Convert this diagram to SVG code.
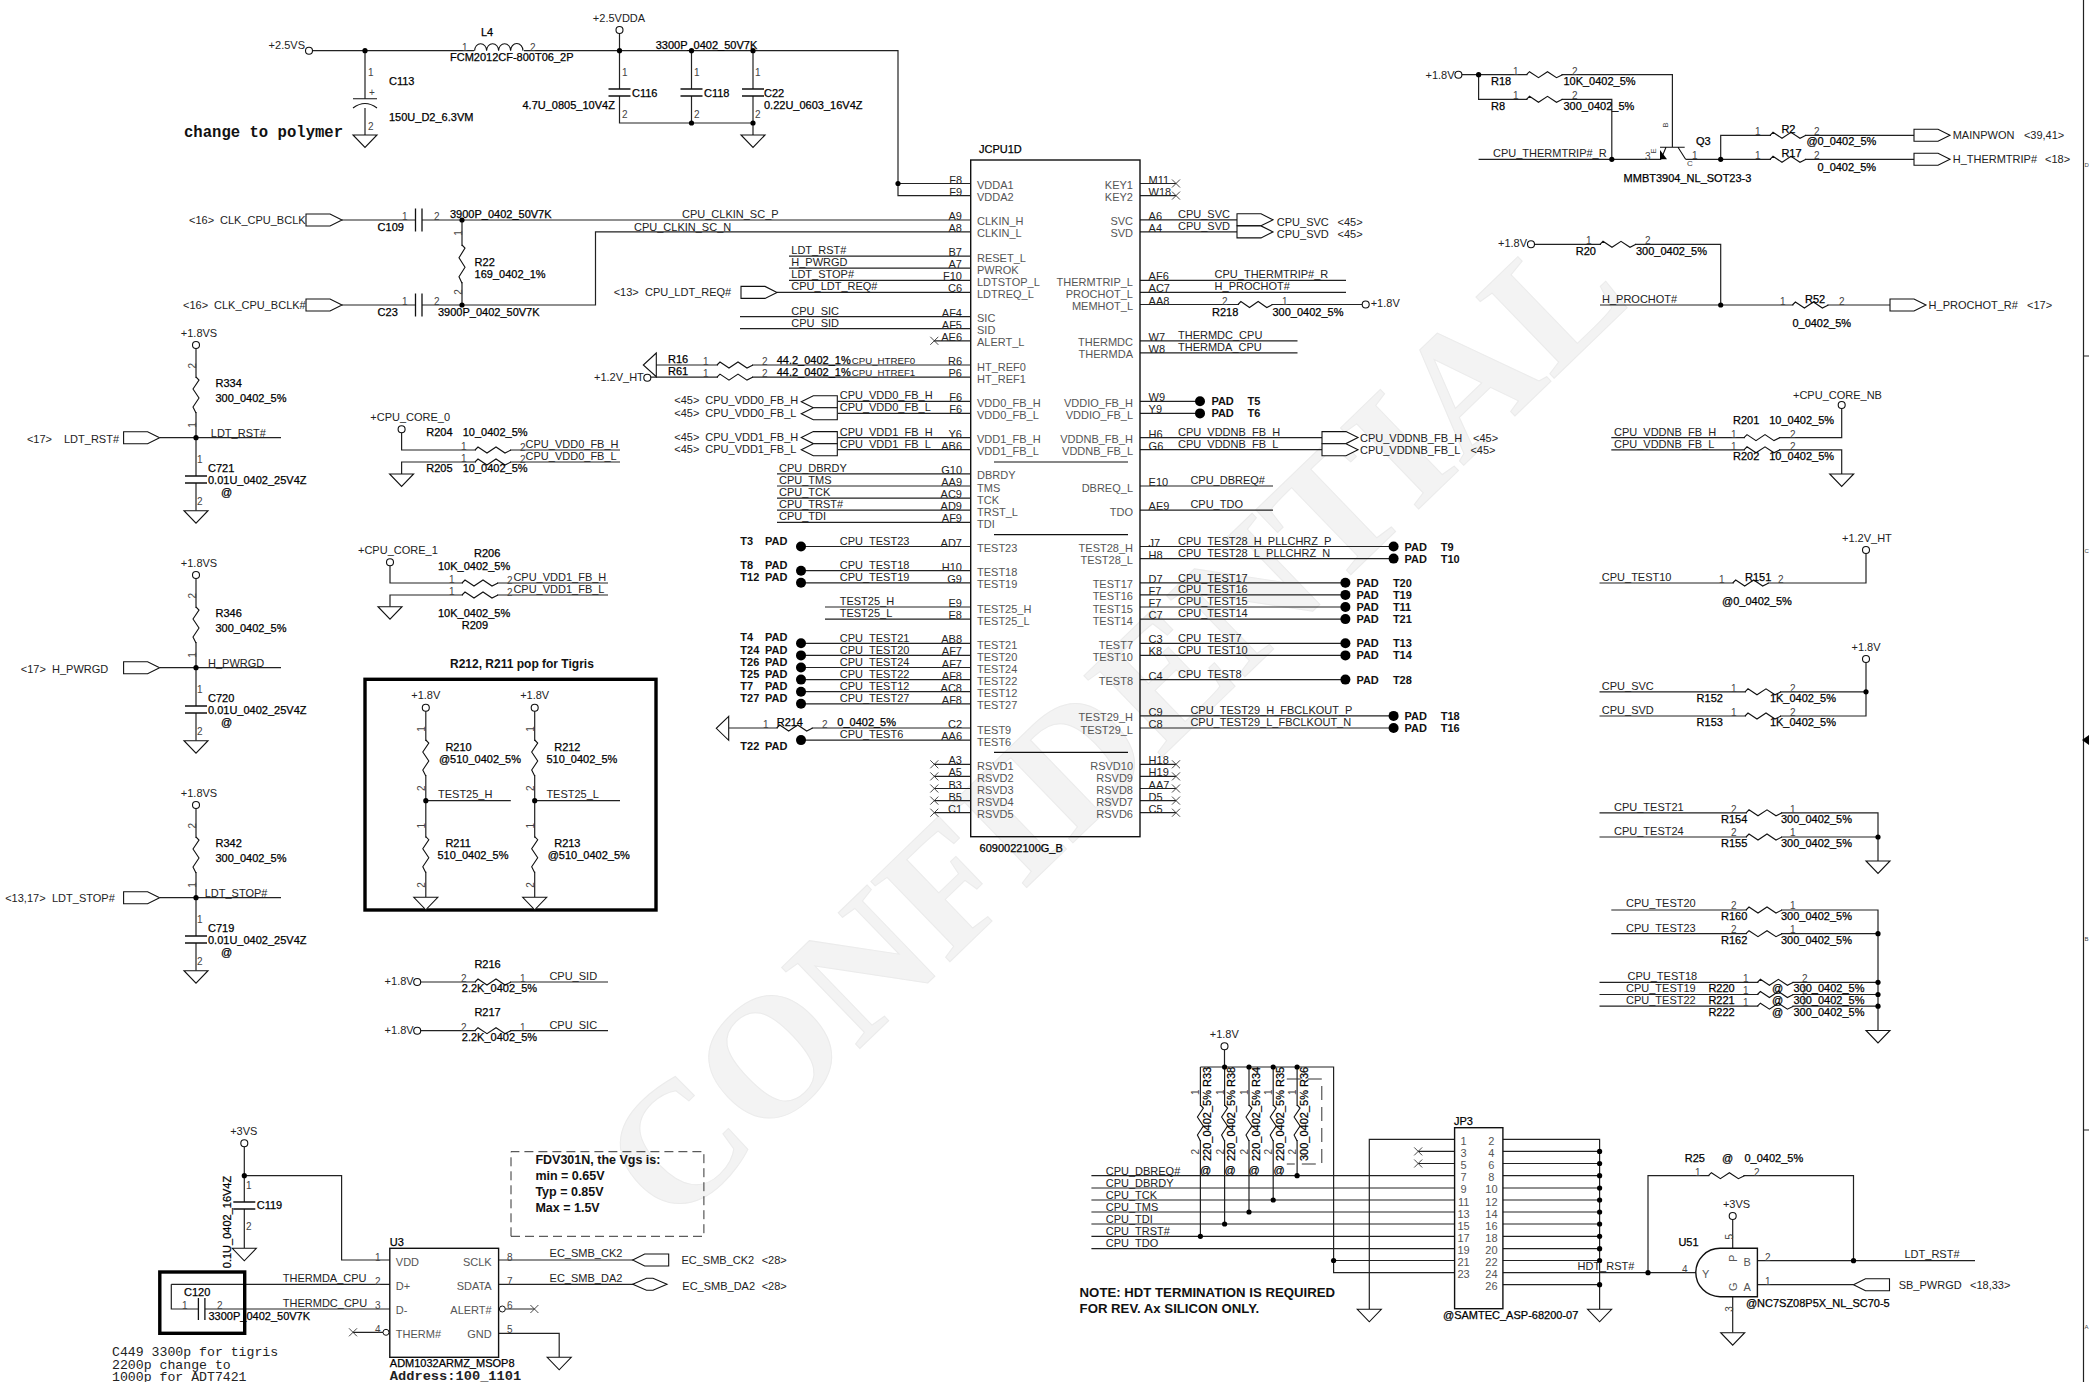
<svg xmlns="http://www.w3.org/2000/svg" width="2089" height="1382" viewBox="0 0 2089 1382">
<style>
text{font-family:"Liberation Sans",Arial,sans-serif;font-size:11px;fill:#222;dominant-baseline:central}
.b{fill:#000;stroke:#000;stroke-width:.25}
.n{font-size:10px;fill:#444}
.g{fill:#555}
.B{font-weight:bold;fill:#111}
.e{text-anchor:end}
.m{text-anchor:middle}
.s{font-size:9.7px}
.c{font-family:"Liberation Mono",monospace}
.w{fill:none;stroke:#222;stroke-width:1.2}
.sym{fill:none;stroke:#111;stroke-width:1.1}
.f{font-size:6px;fill:#444}
.wm{font-family:"Liberation Serif",serif;font-size:172px;font-weight:bold;fill:#f3f3f3;stroke:#ebebeb;stroke-width:1;dominant-baseline:auto}
</style>
<defs>
<path id="gnd" d="M-12 0H12L0 12.5Z" fill="#fff" stroke="#111" stroke-width="1.1"/>
<path id="x" d="M-4 -4L4 4M-4 4L4 -4" fill="none" stroke="#333" stroke-width=".9"/>
<circle id="o" r="3.5" fill="#fff" stroke="#111" stroke-width="1.1"/>
<circle id="d" r="2.6" fill="#000"/>
<circle id="pad" r="5" fill="#000"/>
<path id="pr" d="M0 -6H24L36 0L24 6H0Z" fill="#fff" stroke="#111" stroke-width="1.1"/>
<path id="pl" d="M0 0L12 -6H36V6H12Z" fill="#fff" stroke="#111" stroke-width="1.1"/>
<g id="rh"><rect x="1" y="-1.5" width="34" height="3" fill="#fff"/><path d="M0 0l3 -3 9 6 9 -6 9 6 6 -3" fill="none" stroke="#111" stroke-width="1.1"/></g>
<g id="cv"><rect x="-11" y="0" width="22" height="7" fill="#fff"/><path d="M-11 0H11M-11 7H11" fill="none" stroke="#111" stroke-width="1.3"/></g>
<g id="ch"><rect x="0" y="-11.5" width="6.5" height="23" fill="#fff"/><path d="M0 -11.5V11.5M6.5 -11.5V11.5" fill="none" stroke="#111" stroke-width="1.3"/></g>
</defs>
<rect width="2089" height="1382" fill="#fff"/>
<text class="wm" x="672" y="1230" transform="rotate(-44 672 1230)">CONFIDENTIAL</text>

<g id="connectors">
<path class="w" d="M309 50.7H898V195.6H971M898 183.5H971M365 50.7V98.7M365 108V135M619.5 30V89M619.5 96V123H753M691.5 50.7V89M691.5 96V123M753 50.7V89M753 96V135"/>
<path class="w" d="M342 220H971M342 305H595.5V231.9H971M462 220V305"/>
<path class="w" d="M789 256.1H971M789 268.2H971M789 280.3H971M777 292.4H971M740 316.6H971M740 328.7H971M934 340.8H971M656 365H971M650 377.1H971"/>
<path class="w" d="M838 401.3H971M838 413.4H971M838 437.6H971M838 449.7H971M777 473.9H971M777 486H971M777 498.1H971M777 510.2H971M777 522.3H971"/>
<path class="w" d="M801 546.5H971M801 570.7H971M801 582.8H971M825 607H971M825 619.1H971M801 643.3H971M801 655.4H971M801 667.5H971M801 679.6H971M801 691.7H971M801 703.8H971M729 728H971M801 740.1H971M934 764.3H971M934 776.4H971M934 788.5H971M934 800.6H971M934 812.7H971"/>
<path class="w" d="M1140 183.5H1176M1140 195.6H1176M1140 219.8H1237M1140 231.9H1237M1140 280.3H1346M1140 292.4H1346M1140 304.5H1362M1140 340.8H1297.5M1140 352.9H1297.5M1140 401.3H1200M1140 413.4H1200M1140 437.6H1322M1140 449.7H1322M1140 486H1273M1140 510.2H1273"/>
<path class="w" d="M1140 546.5H1394M1140 558.6H1394M1140 582.8H1345M1140 594.9H1345M1140 607H1345M1140 619.1H1345M1140 643.3H1345M1140 655.4H1345M1140 679.6H1345M1140 715.9H1394M1140 728H1394M1140 764.3H1176M1140 776.4H1176M1140 788.5H1176M1140 800.6H1176M1140 812.7H1176"/>
<path class="w" d="M196 345V437.7M160 437.7H281M196 437.7V510.7M196 575V667.7M160 667.7H281M196 667.7V740.7M196 805V897.7M160 897.7H281M196 897.7V970.7"/>
<path class="w" d="M401.6 429.3V450H620M401.6 474V462H620M390 562.3V583H608M390 606.7V595H608"/>
<path class="w" d="M425.8 707.7V897.3M425.8 800.7H510.8M534.7 707.7V897.3M534.7 800.7H620M417 982H608M417 1030.7H608"/>
<path class="w" d="M1458 74.7H1672.4V147M1478.6 74.7V99.3H1611.8V159.3M1478.6 159.3H1661M1685.6 159.3H1914M1720.7 159.3V135.3H1914M1531 244.3H1720.7V305M1600 305H1890"/>
<path class="w" d="M1841.7 405V437.6H1611.3M1611.3 449.8H1841.7V474M1866 550V583H1599.5M1866 659V716H1599.5M1599.5 691.8H1866M1599.5 812.8H1878V861M1599.5 837H1878M1611.3 910H1878V1030.5M1611.3 933.7H1878M1599.5 982.3H1878M1599.5 994.5H1878M1599.5 1006.2H1878"/>
<path class="w" d="M244.3 1143.3V1248M244.3 1175.7H341.6V1260H390M171.3 1284.3H390M171.3 1284.3V1309H198M205 1309H390M353 1332.3H383M498.6 1260H633M498.6 1284.3H633M505.5 1309H534.4M498.6 1333.3H559.2V1357.3"/>
<path class="w" d="M1224.5 1046.3V1067M1200.4 1067H1333.6V1272.7H1454.6M1333.6 1260.5H1454.6M1200.4 1067V1236.3M1224.6 1067V1224M1249 1067V1212M1273.2 1067V1200M1297.1 1067V1175.7"/>
<path class="w" d="M1091.4 1175.7H1454.6M1091.4 1188H1454.6M1091.4 1200H1454.6M1091.4 1212H1454.6M1091.4 1224H1454.6M1091.4 1236.3H1454.6M1091.4 1248.7H1454.6M1454.6 1139.3H1369.3V1309.3M1418.2 1151.4H1454.6M1418.2 1163.5H1454.6"/>
<path class="w" d="M1502.9 1139.3H1599.6V1309.3M1502.9 1151.4H1599.6M1502.9 1163.5H1599.6M1502.9 1175.7H1599.6M1502.9 1188H1599.6M1502.9 1200H1599.6M1502.9 1212H1599.6M1502.9 1224H1599.6M1502.9 1236.3H1599.6M1502.9 1248.7H1599.6M1502.9 1260.5H1599.6M1502.9 1272.7H1696.6M1502.9 1284.7H1599.6"/>
<path class="w" d="M1648 1272.7V1175.7H1853.5V1260.7M1757.4 1260.7H1975M1757.4 1284.7H1853.5M1732.7 1216V1248.3M1732.7 1296.7V1332.7"/>
<path fill="none" stroke="#333" stroke-width="1" stroke-dasharray="9 5" d="M511 1236.3V1151.7H703.9V1236.3H511"/>
<path fill="none" stroke="#333" stroke-width="1" stroke-dasharray="14 7" d="M1286.8 1079H1321.8V1164H1286.8"/>
</g>

<g id="frame"><path class="w" d="M2083.5 0V1382M2083.5 356H2089M2083.5 1130H2089"/><path d="M2089 735V745L2082 740Z" fill="#000"/><text class="f" x="2084.5" y="165">D</text><text class="f" x="2084.5" y="551">C</text><text class="f" x="2084.5" y="939">B</text><text class="f" x="2084.5" y="1327">A</text></g>

<g id="P25VS"><use href="#o" x="309" y="50.7"/><use href="#d" x="365" y="50.7"/><text class="e" x="305" y="45">+2.5VS</text></g>
<g id="C113"><path class="sym" d="M353 98.7H377M353 108Q365 99 377 108"/><use href="#gnd" x="365" y="135"/><text class="n" x="368" y="72">1</text><text class="n" x="369" y="92">+</text><text class="n" x="368" y="126">2</text><text class="b" x="389" y="81">C113</text><text class="b" x="389" y="117">150U_D2_6.3VM</text><text class="c" x="184" y="133" style="font-size:15.6px;font-weight:bold;fill:#111">change to polymer</text></g>
<g id="L4"><rect x="474" y="49" width="50" height="3" fill="#fff"/><path class="sym" d="M474.6 50.7a6 7 0 0 1 12 0a6 7 0 0 1 12 0a6 7 0 0 1 12 0a6 7 0 0 1 12.4 0"/><text class="n" x="462" y="47">1</text><text class="n" x="530" y="47">2</text><text class="b" x="481" y="32">L4</text><text class="b" x="450" y="57">FCM2012CF-800T06_2P</text></g>
<g id="P25VDDA"><use href="#o" x="619.5" y="30"/><use href="#d" x="619.5" y="50.7"/><text class="m" x="619" y="18">+2.5VDDA</text></g>
<g id="C116"><use href="#cv" x="619.5" y="89"/><text class="n" x="622" y="72">1</text><text class="n" x="622" y="114">2</text><text class="b" x="632" y="93">C116</text><text class="b" x="522.5" y="105">4.7U_0805_10V4Z</text></g>
<g id="C118"><use href="#d" x="691.5" y="50.7"/><use href="#d" x="691.5" y="123"/><use href="#cv" x="691.5" y="89"/><text class="n" x="694" y="72">1</text><text class="n" x="694" y="114">2</text><text class="b" x="704" y="93">C118</text><text class="b" x="655.7" y="45">3300P_0402_50V7K</text></g>
<g id="C22"><use href="#d" x="753" y="50.7"/><use href="#d" x="753" y="123"/><use href="#cv" x="753" y="89"/><use href="#gnd" x="753" y="135"/><text class="n" x="755" y="72">1</text><text class="n" x="755" y="114">2</text><text class="b" x="764" y="93">C22</text><text class="b" x="764" y="105">0.22U_0603_16V4Z</text></g>

<g id="CLK"><use href="#pr" x="306" y="220"/><use href="#pr" x="306" y="305"/><text x="189" y="220">&lt;16&gt;</text><text x="220" y="220">CLK_CPU_BCLK</text><text x="183" y="305">&lt;16&gt;</text><text x="214" y="305">CLK_CPU_BCLK#</text><text x="682" y="214">CPU_CLKIN_SC_P</text><text x="634" y="227">CPU_CLKIN_SC_N</text></g>
<g id="C109"><use href="#ch" x="415.5" y="220"/><text class="n" x="402" y="216">1</text><text class="n" x="434" y="216">2</text><text class="b" x="377.6" y="227">C109</text><text class="b" x="450" y="214">3900P_0402_50V7K</text></g>
<g id="C23"><use href="#ch" x="415.5" y="305"/><text class="n" x="402" y="301">1</text><text class="n" x="434" y="301">2</text><text class="b" x="377.6" y="312">C23</text><text class="b" x="438" y="312">3900P_0402_50V7K</text></g>
<g id="R22"><use href="#d" x="462" y="220"/><use href="#d" x="462" y="305"/><use href="#rh" transform="translate(462 245) rotate(90) scale(1.06 1)"/><text class="n m" transform="translate(458 233) rotate(-90)">1</text><text class="n m" transform="translate(458 292) rotate(-90)">2</text><text class="b" x="474.6" y="262">R22</text><text class="b" x="474.6" y="274">169_0402_1%</text></g>

<g id="JCPU1D">
<rect x="970.7" y="160" width="169.3" height="676.7" fill="none" stroke="#111" stroke-width="1.4"/>
<path d="M994 462H1128M994 534.7H1128M994 752.3H1128" fill="none" stroke="#111" stroke-width="1.2"/>
<text class="b" x="979" y="149">JCPU1D</text><text class="b" x="979.6" y="848">6090022100G_B</text>
<g class="gl"><text class="g" x="977" y="185">VDDA1</text><text class="g" x="977" y="197">VDDA2</text><text class="g" x="977" y="221.3">CLKIN_H</text><text class="g" x="977" y="233.4">CLKIN_L</text><text class="g" x="977" y="257.6">RESET_L</text><text class="g" x="977" y="269.7">PWROK</text><text class="g" x="977" y="281.8">LDTSTOP_L</text><text class="g" x="977" y="293.9">LDTREQ_L</text><text class="g" x="977" y="318.1">SIC</text><text class="g" x="977" y="330.2">SID</text><text class="g" x="977" y="342.3">ALERT_L</text><text class="g" x="977" y="366.5">HT_REF0</text><text class="g" x="977" y="378.6">HT_REF1</text><text class="g" x="977" y="402.8">VDD0_FB_H</text><text class="g" x="977" y="414.9">VDD0_FB_L</text><text class="g" x="977" y="439.1">VDD1_FB_H</text><text class="g" x="977" y="451.2">VDD1_FB_L</text><text class="g" x="977" y="475.4">DBRDY</text><text class="g" x="977" y="487.5">TMS</text><text class="g" x="977" y="499.6">TCK</text><text class="g" x="977" y="511.7">TRST_L</text><text class="g" x="977" y="523.8">TDI</text><text class="g" x="977" y="548">TEST23</text><text class="g" x="977" y="572.2">TEST18</text><text class="g" x="977" y="584.3">TEST19</text><text class="g" x="977" y="608.5">TEST25_H</text><text class="g" x="977" y="620.6">TEST25_L</text><text class="g" x="977" y="644.8">TEST21</text><text class="g" x="977" y="656.9">TEST20</text><text class="g" x="977" y="669">TEST24</text><text class="g" x="977" y="681.1">TEST22</text><text class="g" x="977" y="693.2">TEST12</text><text class="g" x="977" y="705.3">TEST27</text><text class="g" x="977" y="729.5">TEST9</text><text class="g" x="977" y="741.6">TEST6</text><text class="g" x="977" y="765.8">RSVD1</text><text class="g" x="977" y="777.9">RSVD2</text><text class="g" x="977" y="790">RSVD3</text><text class="g" x="977" y="802.1">RSVD4</text><text class="g" x="977" y="814.2">RSVD5</text></g>
<g class="gr"><text class="g e" x="1133" y="185">KEY1</text><text class="g e" x="1133" y="197">KEY2</text><text class="g e" x="1133" y="221.3">SVC</text><text class="g e" x="1133" y="233.4">SVD</text><text class="g e" x="1133" y="281.8">THERMTRIP_L</text><text class="g e" x="1133" y="293.9">PROCHOT_L</text><text class="g e" x="1133" y="306">MEMHOT_L</text><text class="g e" x="1133" y="342.3">THERMDC</text><text class="g e" x="1133" y="354.4">THERMDA</text><text class="g e" x="1133" y="402.8">VDDIO_FB_H</text><text class="g e" x="1133" y="414.9">VDDIO_FB_L</text><text class="g e" x="1133" y="439.1">VDDNB_FB_H</text><text class="g e" x="1133" y="451.2">VDDNB_FB_L</text><text class="g e" x="1133" y="487.5">DBREQ_L</text><text class="g e" x="1133" y="511.7">TDO</text><text class="g e" x="1133" y="548">TEST28_H</text><text class="g e" x="1133" y="560.1">TEST28_L</text><text class="g e" x="1133" y="584.3">TEST17</text><text class="g e" x="1133" y="596.4">TEST16</text><text class="g e" x="1133" y="608.5">TEST15</text><text class="g e" x="1133" y="620.6">TEST14</text><text class="g e" x="1133" y="644.8">TEST7</text><text class="g e" x="1133" y="656.9">TEST10</text><text class="g e" x="1133" y="681.1">TEST8</text><text class="g e" x="1133" y="717.4">TEST29_H</text><text class="g e" x="1133" y="729.5">TEST29_L</text><text class="g e" x="1133" y="765.8">RSVD10</text><text class="g e" x="1133" y="777.9">RSVD9</text><text class="g e" x="1133" y="790">RSVD8</text><text class="g e" x="1133" y="802.1">RSVD7</text><text class="g e" x="1133" y="814.2">RSVD6</text></g>
<g class="pl"><text class="e" x="962" y="179.5">F8</text><text class="e" x="962" y="191.6">F9</text><text class="e" x="962" y="215.8">A9</text><text class="e" x="962" y="227.9">A8</text><text class="e" x="962" y="252.1">B7</text><text class="e" x="962" y="264.2">A7</text><text class="e" x="962" y="276.3">F10</text><text class="e" x="962" y="288.4">C6</text><text class="e" x="962" y="312.6">AF4</text><text class="e" x="962" y="324.7">AF5</text><text class="e" x="962" y="336.8">AE6</text><text class="e" x="962" y="361">R6</text><text class="e" x="962" y="373.1">P6</text><text class="e" x="962" y="397.3">F6</text><text class="e" x="962" y="409.4">F6</text><text class="e" x="962" y="433.6">Y6</text><text class="e" x="962" y="445.7">AB6</text><text class="e" x="962" y="469.9">G10</text><text class="e" x="962" y="482">AA9</text><text class="e" x="962" y="494.1">AC9</text><text class="e" x="962" y="506.2">AD9</text><text class="e" x="962" y="518.3">AF9</text><text class="e" x="962" y="542.5">AD7</text><text class="e" x="962" y="566.7">H10</text><text class="e" x="962" y="578.8">G9</text><text class="e" x="962" y="603">E9</text><text class="e" x="962" y="615.1">E8</text><text class="e" x="962" y="639.3">AB8</text><text class="e" x="962" y="651.4">AF7</text><text class="e" x="962" y="663.5">AF7</text><text class="e" x="962" y="675.6">AF8</text><text class="e" x="962" y="687.7">AC8</text><text class="e" x="962" y="699.8">AF8</text><text class="e" x="962" y="724">C2</text><text class="e" x="962" y="736.1">AA6</text><text class="e" x="962" y="760.3">A3</text><text class="e" x="962" y="772.4">A5</text><text class="e" x="962" y="784.5">B3</text><text class="e" x="962" y="796.6">B5</text><text class="e" x="962" y="808.7">C1</text></g>
<g class="pr"><text x="1148.6" y="179.5">M11</text><text x="1148.6" y="191.6">W18</text><text x="1148.6" y="215.8">A6</text><text x="1148.6" y="227.9">A4</text><text x="1148.6" y="276.3">AF6</text><text x="1148.6" y="288.4">AC7</text><text x="1148.6" y="300.5">AA8</text><text x="1148.6" y="336.8">W7</text><text x="1148.6" y="348.9">W8</text><text x="1148.6" y="397.3">W9</text><text x="1148.6" y="409.4">Y9</text><text x="1148.6" y="433.6">H6</text><text x="1148.6" y="445.7">G6</text><text x="1148.6" y="482">E10</text><text x="1148.6" y="506.2">AE9</text><text x="1148.6" y="542.5">J7</text><text x="1148.6" y="554.6">H8</text><text x="1148.6" y="578.8">D7</text><text x="1148.6" y="590.9">F7</text><text x="1148.6" y="603">F7</text><text x="1148.6" y="615.1">C7</text><text x="1148.6" y="639.3">C3</text><text x="1148.6" y="651.4">K8</text><text x="1148.6" y="675.6">C4</text><text x="1148.6" y="711.9">C9</text><text x="1148.6" y="724">C8</text><text x="1148.6" y="760.3">H18</text><text x="1148.6" y="772.4">H19</text><text x="1148.6" y="784.5">AA7</text><text x="1148.6" y="796.6">D5</text><text x="1148.6" y="808.7">C5</text></g>
<use href="#x" x="934.3" y="340.8"/><use href="#x" x="934.3" y="764.3"/><use href="#x" x="934.3" y="776.4"/><use href="#x" x="934.3" y="788.5"/><use href="#x" x="934.3" y="800.6"/><use href="#x" x="934.3" y="812.7"/>
<use href="#x" x="1176" y="183.5"/><use href="#x" x="1176" y="195.6"/><use href="#x" x="1176" y="764.3"/><use href="#x" x="1176" y="776.4"/><use href="#x" x="1176" y="788.5"/><use href="#x" x="1176" y="800.6"/><use href="#x" x="1176" y="812.7"/>
<use href="#d" x="898" y="183.5"/>
</g>

<g id="nets-left">
<text x="791.3" y="250">LDT_RST#</text><text x="791.3" y="262">H_PWRGD</text><text x="791.3" y="274">LDT_STOP#</text><text x="791.3" y="286">CPU_LDT_REQ#</text><text x="791.3" y="311">CPU_SIC</text><text x="791.3" y="323">CPU_SID</text>
<use href="#pr" x="741" y="292.4"/><text x="613.7" y="292.4">&lt;13&gt;</text><text x="645" y="292.4">CPU_LDT_REQ#</text>
<use href="#pl" x="801.3" y="401.7"/><use href="#pl" x="801.3" y="413.7"/><use href="#pl" x="801.3" y="437.6"/><use href="#pl" x="801.3" y="449.7"/>
<text x="674.3" y="400">&lt;45&gt;</text><text x="705.3" y="400">CPU_VDD0_FB_H</text><text x="674.3" y="412.7">&lt;45&gt;</text><text x="705.3" y="412.7">CPU_VDD0_FB_L</text><text x="674.3" y="437">&lt;45&gt;</text><text x="705.3" y="437">CPU_VDD1_FB_H</text><text x="674.3" y="449">&lt;45&gt;</text><text x="705.3" y="449">CPU_VDD1_FB_L</text>
<text x="839.7" y="395">CPU_VDD0_FB_H</text><text x="839.7" y="407">CPU_VDD0_FB_L</text><text x="839.7" y="432">CPU_VDD1_FB_H</text><text x="839.7" y="444">CPU_VDD1_FB_L</text>
<text x="779" y="468">CPU_DBRDY</text><text x="779" y="480">CPU_TMS</text><text x="779" y="492">CPU_TCK</text><text x="779" y="504">CPU_TRST#</text><text x="779" y="516">CPU_TDI</text>
<text x="839.7" y="541">CPU_TEST23</text><text x="839.7" y="565">CPU_TEST18</text><text x="839.7" y="577">CPU_TEST19</text><text x="839.7" y="601">TEST25_H</text><text x="839.7" y="613">TEST25_L</text><text x="839.7" y="637.5">CPU_TEST21</text><text x="839.7" y="649.5">CPU_TEST20</text><text x="839.7" y="661.5">CPU_TEST24</text><text x="839.7" y="673.5">CPU_TEST22</text><text x="839.7" y="686">CPU_TEST12</text><text x="839.7" y="698">CPU_TEST27</text><text x="839.7" y="734">CPU_TEST6</text>
</g>
<g id="R16"><use href="#rh" x="717" y="365"/><text class="b" x="668" y="359">R16</text><text class="n" x="703" y="361.7">1</text><text class="n" x="762" y="361.7">2</text><text class="b" x="776.7" y="359.5">44.2_0402_1%</text><text class="s" x="851.7" y="360">CPU_HTREF0</text></g>
<g id="R61"><use href="#rh" x="717" y="377.1"/><text class="b" x="668" y="371">R61</text><text class="n" x="703" y="373.7">1</text><text class="n" x="762" y="373.7">2</text><text class="b" x="776.7" y="371.5">44.2_0402_1%</text><text class="s" x="851.7" y="372">CPU_HTREF1</text></g>
<g id="P12VHT"><path class="sym" d="M656.3 353L643.3 365L656.3 376.7Z" fill="#fff"/><use href="#o" x="647.3" y="377.7"/><text x="594" y="376.7">+1.2V_HT</text></g>
<g id="pads-left">
<use href="#pad" x="801" y="546.5"/><use href="#pad" x="801" y="570.7"/><use href="#pad" x="801" y="582.8"/><use href="#pad" x="801" y="643.3"/><use href="#pad" x="801" y="655.4"/><use href="#pad" x="801" y="667.5"/><use href="#pad" x="801" y="679.6"/><use href="#pad" x="801" y="691.7"/><use href="#pad" x="801" y="703.8"/><use href="#pad" x="801" y="740.1"/>
<text class="B" x="740.3" y="541">T3</text><text class="B" x="765" y="541">PAD</text><text class="B" x="740.3" y="565">T8</text><text class="B" x="765" y="565">PAD</text><text class="B" x="740.3" y="577.3">T12</text><text class="B" x="765" y="577.3">PAD</text><text class="B" x="740.3" y="637.3">T4</text><text class="B" x="765" y="637.3">PAD</text><text class="B" x="740.3" y="650">T24</text><text class="B" x="765" y="650">PAD</text><text class="B" x="740.3" y="662.3">T26</text><text class="B" x="765" y="662.3">PAD</text><text class="B" x="740.3" y="674">T25</text><text class="B" x="765" y="674">PAD</text><text class="B" x="740.3" y="686.3">T7</text><text class="B" x="765" y="686.3">PAD</text><text class="B" x="740.3" y="698">T27</text><text class="B" x="765" y="698">PAD</text><text class="B" x="740.3" y="746.3">T22</text><text class="B" x="765" y="746.3">PAD</text>
</g>
<g id="R214"><path class="sym" d="M728.7 716.3L716.3 728.3L728.7 740.3Z" fill="#fff"/><use href="#rh" x="776.7" y="728"/><text class="n" x="763" y="724">1</text><text class="n" x="822" y="724">2</text><text class="b" x="776.7" y="722">R214</text><text class="b" x="837.3" y="722">0_0402_5%</text></g>

<g id="nets-right">
<use href="#pr" x="1237" y="219.8"/><use href="#pr" x="1237" y="231.9"/><text x="1178" y="214">CPU_SVC</text><text x="1178" y="226">CPU_SVD</text><text x="1276.8" y="221.7">CPU_SVC</text><text x="1337.5" y="221.7">&lt;45&gt;</text><text x="1276.8" y="233.7">CPU_SVD</text><text x="1337.5" y="233.7">&lt;45&gt;</text>
<text x="1214.6" y="274">CPU_THERMTRIP#_R</text><text x="1214.6" y="286">H_PROCHOT#</text>
<text x="1178" y="335">THERMDC_CPU</text><text x="1178" y="347">THERMDA_CPU</text>
<use href="#pr" x="1322" y="437.6"/><use href="#pr" x="1322" y="449.7"/><text x="1178" y="432">CPU_VDDNB_FB_H</text><text x="1178" y="444">CPU_VDDNB_FB_L</text><text x="1360" y="438.3">CPU_VDDNB_FB_H</text><text x="1473" y="438.3">&lt;45&gt;</text><text x="1360" y="450">CPU_VDDNB_FB_L</text><text x="1470.4" y="450">&lt;45&gt;</text>
<text x="1190.4" y="480">CPU_DBREQ#</text><text x="1190.4" y="504">CPU_TDO</text>
<text x="1178" y="541.3">CPU_TEST28_H_PLLCHRZ_P</text><text x="1178" y="553.3">CPU_TEST28_L_PLLCHRZ_N</text><text x="1178" y="577.5">CPU_TEST17</text><text x="1178" y="589">CPU_TEST16</text><text x="1178" y="601">CPU_TEST15</text><text x="1178" y="613">CPU_TEST14</text><text x="1178" y="637.5">CPU_TEST7</text><text x="1178" y="649.5">CPU_TEST10</text><text x="1178" y="674">CPU_TEST8</text><text x="1190.4" y="710">CPU_TEST29_H_FBCLKOUT_P</text><text x="1190.4" y="722">CPU_TEST29_L_FBCLKOUT_N</text>
</g>
<g id="R218"><use href="#rh" transform="translate(1238 304.5) scale(.96 1)"/><use href="#o" x="1365.7" y="304.5"/><text class="n" x="1222" y="301">2</text><text class="n" x="1282" y="301">1</text><text class="b" x="1212" y="311.7">R218</text><text class="b" x="1272.5" y="311.7">300_0402_5%</text><text x="1370.7" y="303">+1.8V</text></g>
<g id="pads-right">
<use href="#pad" x="1200" y="401.3"/><use href="#pad" x="1200" y="413.4"/><text class="B" x="1211.4" y="401.3">PAD</text><text class="B" x="1247.5" y="401.3">T5</text><text class="B" x="1211.4" y="413.4">PAD</text><text class="B" x="1247.5" y="413.4">T6</text>
<use href="#pad" x="1393.6" y="546.5"/><use href="#pad" x="1393.6" y="558.6"/><use href="#pad" x="1393.6" y="715.9"/><use href="#pad" x="1393.6" y="728"/>
<text class="B" x="1404.6" y="546.5">PAD</text><text class="B" x="1440.7" y="546.5">T9</text><text class="B" x="1404.6" y="558.6">PAD</text><text class="B" x="1440.7" y="558.6">T10</text><text class="B" x="1404.6" y="715.9">PAD</text><text class="B" x="1440.7" y="715.9">T18</text><text class="B" x="1404.6" y="728">PAD</text><text class="B" x="1440.7" y="728">T16</text>
<use href="#pad" x="1345.4" y="582.8"/><use href="#pad" x="1345.4" y="594.9"/><use href="#pad" x="1345.4" y="607"/><use href="#pad" x="1345.4" y="619.1"/><use href="#pad" x="1345.4" y="643.3"/><use href="#pad" x="1345.4" y="655.4"/><use href="#pad" x="1345.4" y="679.6"/>
<text class="B" x="1356.4" y="582.8">PAD</text><text class="B" x="1392.9" y="582.8">T20</text><text class="B" x="1356.4" y="594.9">PAD</text><text class="B" x="1392.9" y="594.9">T19</text><text class="B" x="1356.4" y="607">PAD</text><text class="B" x="1392.9" y="607">T11</text><text class="B" x="1356.4" y="619.1">PAD</text><text class="B" x="1392.9" y="619.1">T21</text><text class="B" x="1356.4" y="643.3">PAD</text><text class="B" x="1392.9" y="643.3">T13</text><text class="B" x="1356.4" y="655.4">PAD</text><text class="B" x="1392.9" y="655.4">T14</text><text class="B" x="1356.4" y="679.6">PAD</text><text class="B" x="1392.9" y="679.6">T28</text>
</g>

<g id="R334"><use href="#o" x="196" y="345"/><use href="#d" x="196" y="437.7"/><use href="#rh" transform="translate(196 377) rotate(90)"/><text class="m" x="199" y="332.7">+1.8VS</text><text class="n m" transform="translate(192 365.7) rotate(-90)">2</text><text class="n m" transform="translate(192 425) rotate(-90)">1</text><text class="b" x="215.5" y="383.3">R334</text><text class="b" x="215.5" y="398.3">300_0402_5%</text><use href="#pr" x="123.6" y="437.7"/><text x="26.9" y="438.7">&lt;17&gt;</text><text x="64" y="438.7">LDT_RST#</text><text x="210.8" y="432.7">LDT_RST#</text></g>
<g id="C721"><use href="#cv" x="196" y="476"/><use href="#gnd" x="196" y="510.7"/><text class="n" x="197" y="459.3">1</text><text class="n" x="197" y="501">2</text><text class="b" x="208" y="468.3">C721</text><text class="b" x="208" y="480.3">0.01U_0402_25V4Z</text><text class="b" x="221" y="492.3">@</text></g>
<g id="R346"><use href="#o" x="196" y="575"/><use href="#d" x="196" y="667.7"/><use href="#rh" transform="translate(196 607) rotate(90)"/><text class="m" x="199" y="562.7">+1.8VS</text><text class="n m" transform="translate(192 595.7) rotate(-90)">2</text><text class="n m" transform="translate(192 655) rotate(-90)">1</text><text class="b" x="215.5" y="613.3">R346</text><text class="b" x="215.5" y="628.3">300_0402_5%</text><use href="#pr" x="123.6" y="667.7"/><text x="20.8" y="668.7">&lt;17&gt;</text><text x="52" y="668.7">H_PWRGD</text><text x="208" y="662.7">H_PWRGD</text></g>
<g id="C720"><use href="#cv" x="196" y="706"/><use href="#gnd" x="196" y="740.7"/><text class="n" x="197" y="689.3">1</text><text class="n" x="197" y="731">2</text><text class="b" x="208" y="698.3">C720</text><text class="b" x="208" y="710.3">0.01U_0402_25V4Z</text><text class="b" x="221" y="722.3">@</text></g>
<g id="R342"><use href="#o" x="196" y="805"/><use href="#d" x="196" y="897.7"/><use href="#rh" transform="translate(196 837) rotate(90)"/><text class="m" x="199" y="792.7">+1.8VS</text><text class="n m" transform="translate(192 825.7) rotate(-90)">2</text><text class="n m" transform="translate(192 885) rotate(-90)">1</text><text class="b" x="215.5" y="843.3">R342</text><text class="b" x="215.5" y="858.3">300_0402_5%</text><use href="#pr" x="123.6" y="897.7"/><text x="5.2" y="898">&lt;13,17&gt;</text><text x="52" y="898">LDT_STOP#</text><text x="204.7" y="892.7">LDT_STOP#</text></g>
<g id="C719"><use href="#cv" x="196" y="936"/><use href="#gnd" x="196" y="970.7"/><text class="n" x="197" y="919.3">1</text><text class="n" x="197" y="961">2</text><text class="b" x="208" y="928.3">C719</text><text class="b" x="208" y="940.3">0.01U_0402_25V4Z</text><text class="b" x="221" y="952.3">@</text></g>

<g id="R204"><use href="#o" x="401.6" y="429.3"/><use href="#rh" x="475" y="450"/><use href="#rh" x="475" y="462"/><use href="#gnd" x="401.6" y="474"/><text x="370.3" y="417.3">+CPU_CORE_0</text><text class="b" x="426.3" y="432.3">R204</text><text class="b" x="462.7" y="432.3">10_0402_5%</text><text class="b" x="426.3" y="468.3">R205</text><text class="b" x="462.7" y="468.3">10_0402_5%</text><text class="n" x="461" y="446.7">1</text><text class="n" x="461" y="458.7">1</text><text class="n" x="520" y="447">2</text><text class="n" x="520" y="459">2</text><text x="525.6" y="444">CPU_VDD0_FB_H</text><text x="525.6" y="456">CPU_VDD0_FB_L</text></g>
<g id="R206"><use href="#o" x="390" y="562.3"/><use href="#rh" x="462" y="583"/><use href="#rh" x="462" y="595"/><use href="#gnd" x="390" y="606.7"/><text x="358" y="550.3">+CPU_CORE_1</text><text class="b" x="474" y="553.3">R206</text><text class="b" x="438" y="565.7">10K_0402_5%</text><text class="b" x="438" y="613.3">10K_0402_5%</text><text class="b" x="461.8" y="625.3">R209</text><text class="n" x="449" y="579">1</text><text class="n" x="449" y="591">1</text><text class="n" x="507" y="580">2</text><text class="n" x="507" y="592">2</text><text x="513.4" y="577.3">CPU_VDD1_FB_H</text><text x="513.4" y="589.3">CPU_VDD1_FB_L</text></g>

<g id="TigrisBox"><text class="B" x="450" y="664" style="font-size:12px">R212, R211 pop for Tigris</text><rect x="365" y="679.3" width="291" height="230.7" fill="none" stroke="#000" stroke-width="3.4"/>
<use href="#o" x="425.8" y="707.7"/><use href="#o" x="534.7" y="707.7"/><text class="m" x="425.8" y="695.3">+1.8V</text><text class="m" x="534.7" y="695.3">+1.8V</text>
<use href="#rh" transform="translate(425.8 740) rotate(90)"/><use href="#rh" transform="translate(425.8 836.7) rotate(90)"/><use href="#rh" transform="translate(534.7 740) rotate(90)"/><use href="#rh" transform="translate(534.7 836.7) rotate(90)"/>
<use href="#d" x="425.8" y="800.7"/><use href="#d" x="534.7" y="800.7"/><use href="#gnd" x="425.8" y="897.3"/><use href="#gnd" x="534.7" y="897.3"/>
<text class="n m" transform="translate(421.5 729) rotate(-90)">1</text><text class="n m" transform="translate(421.5 788.3) rotate(-90)">2</text><text class="n m" transform="translate(421.5 825.7) rotate(-90)">1</text><text class="n m" transform="translate(421.5 885) rotate(-90)">2</text><text class="n m" transform="translate(530.4 729) rotate(-90)">1</text><text class="n m" transform="translate(530.4 788.3) rotate(-90)">2</text><text class="n m" transform="translate(530.4 825.7) rotate(-90)">1</text><text class="n m" transform="translate(530.4 885) rotate(-90)">2</text>
<text class="b" x="445.4" y="746.7">R210</text><text class="b" x="438.9" y="758.7">@510_0402_5%</text><text class="b" x="554.2" y="746.7">R212</text><text class="b" x="546.4" y="758.7">510_0402_5%</text><text class="b" x="445.4" y="843.3">R211</text><text class="b" x="437.5" y="855.3">510_0402_5%</text><text class="b" x="554.2" y="843.3">R213</text><text class="b" x="547.7" y="855.3">@510_0402_5%</text><text x="438" y="794.3">TEST25_H</text><text x="546.4" y="794.3">TEST25_L</text></g>

<g id="R216"><use href="#o" x="417.2" y="982"/><use href="#rh" x="475" y="982"/><text x="384.6" y="981">+1.8V</text><text class="b" x="474.4" y="964.3">R216</text><text class="b" x="461.8" y="988.3">2.2K_0402_5%</text><text class="n" x="461" y="978.3">2</text><text class="n" x="520" y="978.3">1</text><text x="549.4" y="976.3">CPU_SID</text></g>
<g id="R217"><use href="#o" x="417.2" y="1030.7"/><use href="#rh" x="475" y="1030.7"/><text x="384.6" y="1029.5">+1.8V</text><text class="b" x="474.4" y="1012.3">R217</text><text class="b" x="461.8" y="1037.3">2.2K_0402_5%</text><text class="n" x="461" y="1027">2</text><text class="n" x="520" y="1027">1</text><text x="549.4" y="1025">CPU_SIC</text></g>

<g id="C119"><use href="#o" x="244.3" y="1143.3"/><use href="#d" x="244.3" y="1175.7"/><use href="#cv" x="244.3" y="1202"/><use href="#gnd" x="244.3" y="1248.3"/><text class="m" x="243.8" y="1131">+3VS</text><text class="n" x="246" y="1185.7">1</text><text class="n" x="246" y="1226.7">2</text><text class="b" x="256.7" y="1204.7">C119</text><text class="b m" transform="translate(226.8 1222) rotate(-90)">0.1U_0402_16V4Z</text></g>
<g id="C120"><rect x="159.8" y="1272" width="84.9" height="61.3" fill="none" stroke="#000" stroke-width="3.4"/><use href="#ch" transform="translate(198.4 1309) scale(1 .95)"/><text class="b" x="184" y="1291.7">C120</text><text class="n" x="182" y="1305">1</text><text class="n" x="217" y="1305">2</text><text class="b" x="208.5" y="1316">3300P_0402_50V7K</text><text class="c" x="112" y="1352.3" style="font-size:13.2px">C449 3300p for tigris</text><text class="c" x="112" y="1365" style="font-size:13.2px">2200p change to</text><text class="c" x="112" y="1377.7" style="font-size:13.2px">1000p for ADT7421</text></g>
<g id="U3"><rect x="389.8" y="1248.3" width="108.8" height="109" fill="none" stroke="#111" stroke-width="1.4"/><circle cx="386" cy="1332.3" r="3" fill="#fff" stroke="#111"/><circle cx="502.3" cy="1309" r="3" fill="#fff" stroke="#111"/><use href="#x" x="353" y="1332.3"/><use href="#x" x="534.4" y="1309"/><use href="#gnd" x="559.2" y="1357.3"/>
<text class="b" x="389.8" y="1242.3">U3</text><text class="g" x="395.8" y="1262.3">VDD</text><text class="g" x="395.8" y="1286.3">D+</text><text class="g" x="395.8" y="1310.3">D-</text><text class="g" x="395.8" y="1334.3">THERM#</text><text class="g e" x="491.7" y="1262.3">SCLK</text><text class="g e" x="491.7" y="1286.3">SDATA</text><text class="g e" x="491.7" y="1310.3">ALERT#</text><text class="g e" x="491.7" y="1334.3">GND</text>
<text class="n" x="375" y="1257">1</text><text class="n" x="375" y="1281">2</text><text class="n" x="375" y="1305">3</text><text class="n" x="375" y="1329">4</text><text class="n" x="507" y="1257">8</text><text class="n" x="507" y="1281">7</text><text class="n" x="507" y="1305">6</text><text class="n" x="507" y="1329">5</text>
<text x="282.8" y="1278.3">THERMDA_CPU</text><text x="282.8" y="1303.3">THERMDC_CPU</text><text x="549.6" y="1253.3">EC_SMB_CK2</text><text x="549.6" y="1278.3">EC_SMB_DA2</text>
<use href="#pl" x="632.7" y="1260"/><path d="M632.7 1284.3L646.5 1278.3H653L667 1284.3L653 1290.3H646.5Z" fill="#fff" stroke="#111" stroke-width="1.1"/><text x="681.4" y="1260">EC_SMB_CK2</text><text x="761.7" y="1260">&lt;28&gt;</text><text x="682.3" y="1285.7">EC_SMB_DA2</text><text x="761.7" y="1285.7">&lt;28&gt;</text>
<text class="b" x="389.8" y="1363.3">ADM1032ARMZ_MSOP8</text><text class="c" x="389.8" y="1376.7" style="font-size:13.7px;font-weight:bold;fill:#222">Address:100_1101</text></g>
<g id="FDV301N"><text class="B" x="535.4" y="1160" style="font-size:12.5px">FDV301N, the Vgs is:</text><text class="B" x="535.4" y="1175.7" style="font-size:12.5px">min = 0.65V</text><text class="B" x="535.4" y="1191.7" style="font-size:12.5px">Typ = 0.85V</text><text class="B" x="535.4" y="1207.7" style="font-size:12.5px">Max = 1.5V</text></g>

<g id="HDT-R">
<use href="#o" x="1224.5" y="1046.3"/><text class="m" x="1224.3" y="1034.3">+1.8V</text>
<use href="#d" x="1224.6" y="1067"/><use href="#d" x="1249" y="1067"/><use href="#d" x="1273.2" y="1067"/><use href="#d" x="1297.1" y="1067"/>
<use href="#rh" transform="translate(1200.4 1105) rotate(90)"/><use href="#rh" transform="translate(1224.6 1105) rotate(90)"/><use href="#rh" transform="translate(1249 1105) rotate(90)"/><use href="#rh" transform="translate(1273.2 1105) rotate(90)"/><use href="#rh" transform="translate(1297.1 1105) rotate(90)"/>
<use href="#d" x="1200.4" y="1236.3"/><use href="#d" x="1224.6" y="1224"/><use href="#d" x="1249" y="1212"/><use href="#d" x="1273.2" y="1200"/><use href="#d" x="1297.1" y="1175.7"/><use href="#d" x="1333.6" y="1260.5"/>
<text class="b" transform="translate(1206.8 1161) rotate(-90)">220_0402_5% R33</text><text class="b" transform="translate(1231.4 1161) rotate(-90)">220_0402_5% R38</text><text class="b" transform="translate(1255.7 1161) rotate(-90)">220_0402_5% R34</text><text class="b" transform="translate(1279.6 1161) rotate(-90)">220_0402_5% R35</text><text class="b" transform="translate(1303.6 1161) rotate(-90)">300_0402_5% R36</text>
<text class="b m" x="1205.7" y="1170">@</text><text class="b m" x="1230" y="1170">@</text><text class="b m" x="1254" y="1170">@</text><text class="b m" x="1279" y="1170">@</text>
<text class="n m" transform="translate(1195.7 1092.3) rotate(-90)">1</text><text class="n m" transform="translate(1195.7 1151.7) rotate(-90)">2</text><text class="n m" transform="translate(1220 1092.3) rotate(-90)">1</text><text class="n m" transform="translate(1220 1151.7) rotate(-90)">2</text><text class="n m" transform="translate(1244.3 1092.3) rotate(-90)">1</text><text class="n m" transform="translate(1244.3 1151.7) rotate(-90)">2</text><text class="n m" transform="translate(1268.5 1092.3) rotate(-90)">1</text><text class="n m" transform="translate(1268.5 1151.7) rotate(-90)">2</text><text class="n m" transform="translate(1292.5 1092.3) rotate(-90)">1</text><text class="n m" transform="translate(1292.5 1151.7) rotate(-90)">2</text>
<text x="1105.7" y="1170.7">CPU_DBREQ#</text><text x="1105.7" y="1183">CPU_DBRDY</text><text x="1105.7" y="1195">CPU_TCK</text><text x="1105.7" y="1207">CPU_TMS</text><text x="1105.7" y="1219">CPU_TDI</text><text x="1105.7" y="1231">CPU_TRST#</text><text x="1105.7" y="1243">CPU_TDO</text>
<text class="B" x="1079.6" y="1292.3" style="font-size:13.2px">NOTE: HDT TERMINATION IS REQUIRED</text><text class="B" x="1079.6" y="1308.3" style="font-size:13.2px">FOR REV. Ax SILICON ONLY.</text>
</g>
<g id="JP3"><rect x="1454.6" y="1127.7" width="48.3" height="181" fill="none" stroke="#111" stroke-width="1.4"/><text class="b" x="1454" y="1121.3">JP3</text><text class="b" x="1443" y="1315">@SAMTEC_ASP-68200-07</text><use href="#x" x="1418.2" y="1151.4"/><use href="#x" x="1418.2" y="1163.5"/><use href="#gnd" x="1369.3" y="1309.3"/><use href="#gnd" x="1599.6" y="1309.3"/>
<text class="g m" x="1463.6" y="1141.3">1</text><text class="g m" x="1463.6" y="1153.3">3</text><text class="g m" x="1463.6" y="1165.3">5</text><text class="g m" x="1463.6" y="1177.3">7</text><text class="g m" x="1463.6" y="1189.3">9</text><text class="g m" x="1463.6" y="1201.5">11</text><text class="g m" x="1463.6" y="1213.5">13</text><text class="g m" x="1463.6" y="1225.5">15</text><text class="g m" x="1463.6" y="1237.5">17</text><text class="g m" x="1463.6" y="1250">19</text><text class="g m" x="1463.6" y="1262">21</text><text class="g m" x="1463.6" y="1274">23</text>
<text class="g m" x="1491.4" y="1141.3">2</text><text class="g m" x="1491.4" y="1153.3">4</text><text class="g m" x="1491.4" y="1165.3">6</text><text class="g m" x="1491.4" y="1177.3">8</text><text class="g m" x="1491.4" y="1189.3">10</text><text class="g m" x="1491.4" y="1201.5">12</text><text class="g m" x="1491.4" y="1213.5">14</text><text class="g m" x="1491.4" y="1225.5">16</text><text class="g m" x="1491.4" y="1237.5">18</text><text class="g m" x="1491.4" y="1250">20</text><text class="g m" x="1491.4" y="1262">22</text><text class="g m" x="1491.4" y="1274">24</text><text class="g m" x="1491.4" y="1286">26</text>
<use href="#d" x="1599.6" y="1151.4"/><use href="#d" x="1599.6" y="1163.5"/><use href="#d" x="1599.6" y="1175.7"/><use href="#d" x="1599.6" y="1188"/><use href="#d" x="1599.6" y="1200"/><use href="#d" x="1599.6" y="1212"/><use href="#d" x="1599.6" y="1224"/><use href="#d" x="1599.6" y="1236.3"/><use href="#d" x="1599.6" y="1248.7"/><use href="#d" x="1599.6" y="1260.5"/><use href="#d" x="1599.6" y="1284.7"/>
<text x="1577.5" y="1266">HDT_RST#</text></g>
<g id="R25"><use href="#d" x="1648" y="1272.7"/><use href="#d" x="1853.5" y="1260.7"/><use href="#rh" x="1708.4" y="1175.7"/><text class="b" x="1684.8" y="1158.3">R25</text><text class="b" x="1722" y="1158.3">@</text><text class="b" x="1744.5" y="1158.3">0_0402_5%</text><text class="n" x="1695" y="1172.7">1</text><text class="n" x="1754" y="1172.7">2</text></g>
<g id="U51"><path d="M1757.4 1248.3H1720A24 24 0 0 0 1720 1296.7H1757.4Z" fill="#fff" stroke="#111" stroke-width="1.4"/><use href="#o" x="1732.7" y="1216"/><use href="#gnd" x="1732.7" y="1332.7"/><text class="m" x="1736.5" y="1204.3">+3VS</text><text class="b" x="1678.4" y="1242.3">U51</text><text class="g m" transform="translate(1733 1258.3) rotate(-90)">P</text><text class="g m" transform="translate(1733 1286.7) rotate(-90)">G</text><text class="g m" x="1747.2" y="1262.3">B</text><text class="g m" x="1747.2" y="1286.7">A</text><text class="g m" x="1705.7" y="1274">Y</text>
<text class="n m" transform="translate(1729 1236.7) rotate(-90)">5</text><text class="n m" transform="translate(1729 1309) rotate(-90)">3</text><text class="n" x="1765" y="1257">2</text><text class="n" x="1765" y="1281">1</text><text class="n" x="1682" y="1269.3">4</text>
<use href="#pl" x="1853.5" y="1284.7"/><text x="1898.7" y="1285.3">SB_PWRGD</text><text x="1970" y="1285.3">&lt;18,33&gt;</text><text x="1904.5" y="1254">LDT_RST#</text><text class="b" x="1745.9" y="1303.3">@NC7SZ08P5X_NL_SC70-5</text></g>

<g id="P18V-Q"><use href="#o" x="1458.4" y="74.7"/><use href="#d" x="1478.6" y="74.7"/><use href="#d" x="1611.8" y="159.3"/><text x="1425.5" y="74.7">+1.8V</text></g>
<g id="R18"><use href="#rh" x="1526.5" y="74.7"/><text class="n" x="1513" y="71">1</text><text class="n" x="1572" y="71">2</text><text class="b" x="1491" y="81.3">R18</text><text class="b" x="1563.4" y="81.3">10K_0402_5%</text></g>
<g id="R8"><use href="#rh" x="1526.5" y="99.3"/><text class="n" x="1513" y="95">1</text><text class="n" x="1572" y="95">2</text><text class="b" x="1491" y="105.7">R8</text><text class="b" x="1563.4" y="105.7">300_0402_5%</text></g>
<g id="Q3"><path class="sym" d="M1660 147.3H1684.7M1666 147.3L1661 159.3M1678 147.3L1685.6 159.3"/><path d="M1660 150L1667 159.3H1660Z" fill="#000"/><text class="n m" style="font-size:8px" transform="translate(1665.8 125) rotate(-90)">B</text><text class="n m" style="font-size:8px" transform="translate(1653 151) rotate(-90)">E</text><text class="n" x="1645" y="156">3</text><text class="n m" style="font-size:8px" x="1690" y="163">C</text><text class="n" x="1692" y="155.7">1</text><text class="b" x="1696" y="141">Q3</text><text class="b" x="1623.6" y="178">MMBT3904_NL_SOT23-3</text><text x="1493" y="153.3">CPU_THERMTRIP#_R</text><use href="#d" x="1720.7" y="159.3"/></g>
<g id="R2"><use href="#rh" x="1770" y="135.3"/><text class="n" x="1755" y="131">1</text><text class="n" x="1814" y="131">2</text><text class="b" x="1781.4" y="129">R2</text><text class="b" x="1806.4" y="141.3">@0_0402_5%</text><use href="#pr" x="1914" y="135.3"/><text x="1952.7" y="135.3">MAINPWON</text><text x="2023.9" y="135.3">&lt;39,41&gt;</text></g>
<g id="R17"><use href="#rh" x="1770" y="159.3"/><text class="n" x="1755" y="155">1</text><text class="n" x="1814" y="155">2</text><text class="b" x="1781.4" y="153.3">R17</text><text class="b" x="1817.4" y="166.7">0_0402_5%</text><use href="#pr" x="1914" y="159.3"/><text x="1952.7" y="159">H_THERMTRIP#</text><text x="2045" y="159">&lt;18&gt;</text></g>
<g id="R20"><use href="#o" x="1531" y="244.3"/><use href="#rh" x="1600" y="244.3"/><text x="1498" y="243.3">+1.8V</text><text class="n" x="1586" y="240">1</text><text class="n" x="1645" y="240">2</text><text class="b" x="1575.7" y="250.7">R20</text><text class="b" x="1636" y="250.7">300_0402_5%</text></g>
<g id="R52"><use href="#d" x="1720.7" y="305"/><use href="#rh" x="1792.4" y="305"/><text x="1602" y="299.3">H_PROCHOT#</text><text class="b" x="1805" y="299.3">R52</text><text class="n" x="1780" y="301.7">1</text><text class="n" x="1839" y="301.7">2</text><text class="b" x="1792.4" y="323.3">0_0402_5%</text><use href="#pr" x="1890" y="305"/><text x="1928.6" y="305.3">H_PROCHOT_R#</text><text x="2027" y="305.3">&lt;17&gt;</text></g>

<g id="R201"><use href="#o" x="1841.7" y="405"/><use href="#rh" x="1744" y="437.6"/><use href="#rh" x="1744" y="449.8"/><use href="#gnd" x="1841.7" y="474"/><text x="1793" y="395">+CPU_CORE_NB</text><text class="b" x="1733" y="420.3">R201</text><text class="b" x="1769.2" y="420.3">10_0402_5%</text><text class="b" x="1733" y="456.3">R202</text><text class="b" x="1769.2" y="456.3">10_0402_5%</text><text class="n" x="1731" y="434.2">1</text><text class="n" x="1731" y="446">1</text><text class="n" x="1790" y="434.2">2</text><text class="n" x="1790" y="446">2</text><text x="1614" y="432">CPU_VDDNB_FB_H</text><text x="1614" y="443.7">CPU_VDDNB_FB_L</text></g>
<g id="R151"><use href="#o" x="1866" y="550"/><use href="#rh" x="1732.7" y="583"/><text x="1842" y="538.3">+1.2V_HT</text><text class="b" x="1745" y="577.3">R151</text><text class="n" x="1719" y="579">1</text><text class="n" x="1778" y="579">2</text><text class="b" x="1722" y="601">@0_0402_5%</text><text x="1601.8" y="577.3">CPU_TEST10</text></g>
<g id="R152"><use href="#o" x="1866" y="659"/><use href="#d" x="1866" y="691.8"/><use href="#rh" x="1745" y="691.8"/><use href="#rh" x="1745" y="716"/><text x="1851.5" y="647">+1.8V</text><text x="1601.8" y="686">CPU_SVC</text><text x="1601.8" y="710">CPU_SVD</text><text class="b" x="1696.6" y="698.3">R152</text><text class="b" x="1769.9" y="698.3">1K_0402_5%</text><text class="b" x="1696.6" y="722">R153</text><text class="b" x="1769.9" y="722">1K_0402_5%</text><text class="n" x="1731" y="688.7">1</text><text class="n" x="1790" y="688.7">2</text><text class="n" x="1731" y="712.6">1</text><text class="n" x="1790" y="712.6">2</text></g>
<g id="R154"><use href="#rh" x="1746" y="812.8"/><use href="#rh" x="1746" y="837"/><use href="#d" x="1878" y="837"/><use href="#gnd" x="1878" y="861"/><text x="1614" y="807">CPU_TEST21</text><text x="1614" y="831">CPU_TEST24</text><text class="b" x="1721" y="819">R154</text><text class="b" x="1781" y="819">300_0402_5%</text><text class="b" x="1721" y="843">R155</text><text class="b" x="1781" y="843">300_0402_5%</text><text class="n" x="1731" y="809">2</text><text class="n" x="1790" y="809">1</text><text class="n" x="1731" y="832.7">2</text><text class="n" x="1790" y="832.7">1</text></g>
<g id="R160"><use href="#rh" x="1746" y="910"/><use href="#rh" x="1746" y="933.7"/><use href="#d" x="1878" y="933.7"/><text x="1626" y="903">CPU_TEST20</text><text x="1626" y="927.7">CPU_TEST23</text><text class="b" x="1721" y="916">R160</text><text class="b" x="1781" y="916">300_0402_5%</text><text class="b" x="1721" y="940">R162</text><text class="b" x="1781" y="940">300_0402_5%</text><text class="n" x="1731" y="905.6">2</text><text class="n" x="1790" y="905.6">1</text><text class="n" x="1731" y="929.4">2</text><text class="n" x="1790" y="929.4">1</text></g>
<g id="R220"><use href="#rh" x="1757.4" y="982.3"/><use href="#rh" x="1757.4" y="994.5"/><use href="#rh" x="1757.4" y="1006.2"/><use href="#d" x="1878" y="982.3"/><use href="#d" x="1878" y="994.5"/><use href="#d" x="1878" y="1006.2"/><use href="#gnd" x="1878" y="1030.5"/><text x="1627.5" y="975.8">CPU_TEST18</text><text x="1626" y="988">CPU_TEST19</text><text x="1626" y="999.7">CPU_TEST22</text><text class="b" x="1708.4" y="988">R220</text><text class="b" x="1708.4" y="1000">R221</text><text class="b" x="1708.4" y="1012">R222</text><text class="b m" x="1777.6" y="988">@</text><text class="b m" x="1777.6" y="1000">@</text><text class="b m" x="1777.6" y="1012">@</text><text class="b" x="1793.5" y="988">300_0402_5%</text><text class="b" x="1793.5" y="1000">300_0402_5%</text><text class="b" x="1793.5" y="1012">300_0402_5%</text><text class="n" x="1743" y="978.4">1</text><text class="n" x="1743" y="990">1</text><text class="n" x="1743" y="1002">1</text><text class="n" x="1802" y="978.4">2</text><text class="n" x="1802" y="990">2</text><text class="n" x="1802" y="1002">2</text></g>
</svg>
